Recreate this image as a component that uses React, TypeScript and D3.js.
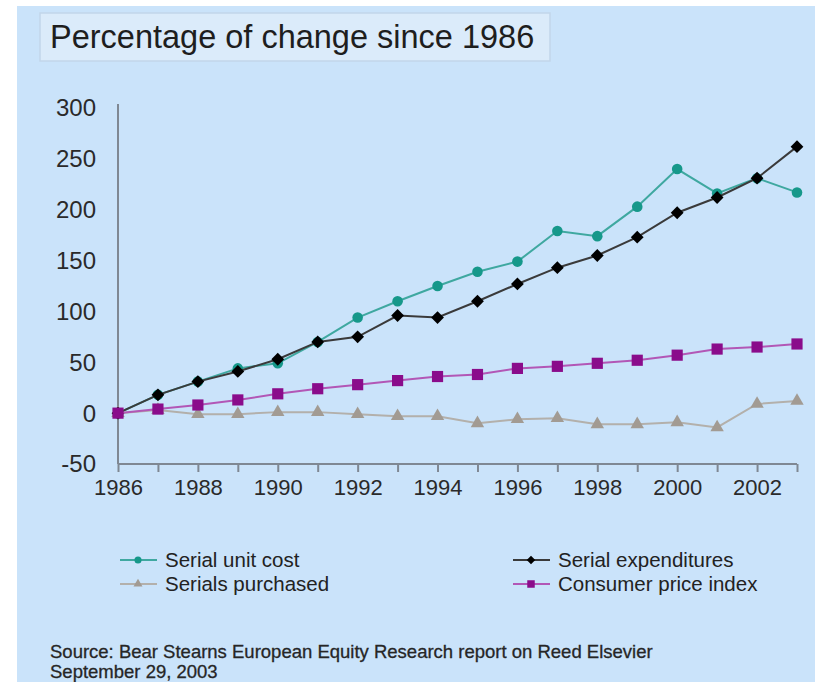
import { useEffect, useRef } from 'react';
import * as d3 from 'd3';

const years = d3.range(1986, 2004);
const unitCost = [0, 18, 31, 44, 49, 70, 94, 110, 125, 139, 149, 179, 174, 203, 240, 216, 231, 217];
const expenditures = [0, 18, 31, 41, 53, 70, 75, 96, 94, 110, 127, 143, 155, 173, 197, 212, 231, 262];
const purchased = [0, 3, -1, -1, 1, 1, -1, -3, -3, -10, -6, -5, -11, -11, -9, -14, 9, 12];
const cpi = [0, 4, 8, 13, 19, 24, 28, 32, 36, 38, 44, 46, 49, 52, 57, 63, 65, 68];
const yTicks = [-50, 0, 50, 100, 150, 200, 250, 300];
const xTicks = [1986, 1988, 1990, 1992, 1994, 1996, 1998, 2000, 2002];

// diamond = square turned 45 degrees
const diamond = {
  draw(ctx: any, size: number) {
    const h = Math.sqrt(size / 2);
    ctx.moveTo(0, -h);
    ctx.lineTo(h, 0);
    ctx.lineTo(0, h);
    ctx.lineTo(-h, 0);
    ctx.closePath();
  },
};

const series = [
  { name: 'Serials purchased', values: purchased, line: '#b3b0ab', fill: '#a29b93', shape: d3.symbolTriangle, size: 78 },
  { name: 'Serial unit cost', values: unitCost, line: '#3fa8a0', fill: '#16988a', shape: d3.symbolCircle, size: 88 },
  { name: 'Serial expenditures', values: expenditures, line: '#3a3a3a', fill: '#000000', shape: diamond, size: 82 },
  { name: 'Consumer price index', values: cpi, line: '#b257b6', fill: '#8a0c8b', shape: d3.symbolSquare, size: 125 },
];

// legend order as in the picture: 2 columns, 2 rows
const legendItems = [
  { s: 1, col: 0, row: 0 },
  { s: 2, col: 1, row: 0 },
  { s: 0, col: 0, row: 1 },
  { s: 3, col: 1, row: 1 },
];

function drawChart(svgEl: SVGSVGElement) {
  const width = 815;
  const height = 682;
  const svg = d3.select(svgEl);
  svg.selectAll('*').remove();

  const font = "'Liberation Sans', Arial, sans-serif";

  svg.append('rect')
    .attr('x', 17).attr('y', 6)
    .attr('width', width - 17).attr('height', height - 6)
    .attr('fill', '#cae3fa');

  // title box
  svg.append('rect')
    .attr('x', 40).attr('y', 13)
    .attr('width', 510).attr('height', 48)
    .attr('fill', '#dbebfa')
    .attr('stroke', '#c2d6ea')
    .attr('stroke-width', 1.5);
  svg.append('text')
    .attr('x', 50).attr('y', 48)
    .attr('font-family', font)
    .attr('font-size', 32.5)
    .attr('fill', '#1e1e1e')
    .text('Percentage of change since 1986');

  const x = d3.scaleLinear().domain([1986, 2003]).range([118, 797]);
  const y = d3.scaleLinear().domain([-50, 300]).range([464, 108]);

  const axisColor = '#7f8893';

  // y axis (no ticks, labels only)
  svg.append('line')
    .attr('x1', x(1986)).attr('x2', x(1986))
    .attr('y1', 104).attr('y2', y(-50))
    .attr('stroke', axisColor).attr('stroke-width', 2);
  svg.append('g')
    .selectAll('text')
    .data(yTicks)
    .join('text')
      .attr('x', 96)
      .attr('y', d => y(d))
      .attr('dy', '0.35em')
      .attr('text-anchor', 'end')
      .attr('font-family', font)
      .attr('font-size', 24)
      .attr('fill', '#2a2a2a')
      .text(d => d);

  // x axis
  const xAxis = d3.axisBottom(x)
    .tickValues(years)
    .tickSize(8)
    .tickFormat(d => (xTicks.includes(+d) ? String(d) : ''));
  const gx = svg.append('g')
    .attr('transform', `translate(0,${y(-50)})`)
    .call(xAxis);
  gx.select('.domain').attr('stroke', axisColor).attr('stroke-width', 2).attr('d', `M${x(1986)},0H${x(2003)}`);
  gx.selectAll('.tick line').attr('stroke', axisColor).attr('stroke-width', 2);
  gx.selectAll('.tick text')
    .attr('font-family', font)
    .attr('font-size', 22)
    .attr('fill', '#2a2a2a')
    .attr('y', 15);

  const line = d3.line<number>()
    .x((_, i) => x(years[i]))
    .y(d => y(d));

  series.forEach(s => {
    const g = svg.append('g');
    g.append('path')
      .datum(s.values)
      .attr('d', line)
      .attr('fill', 'none')
      .attr('stroke', s.line)
      .attr('stroke-width', 2);
    g.selectAll('path.m')
      .data(s.values)
      .join('path')
        .attr('class', 'm')
        .attr('transform', (d, i) => `translate(${x(years[i])},${y(d)})`)
        .attr('d', d3.symbol().type(s.shape as any).size(s.size)())
        .attr('fill', s.fill);
  });

  // legend
  const lg = svg.append('g');
  legendItems.forEach(it => {
    const s = series[it.s];
    const lx = it.col === 0 ? 120 : 513;
    const ly = it.row === 0 ? 560 : 584;
    lg.append('line')
      .attr('x1', lx).attr('x2', lx + 37)
      .attr('y1', ly).attr('y2', ly)
      .attr('stroke', s.line).attr('stroke-width', 2);
    lg.append('path')
      .attr('transform', `translate(${lx + 18},${ly})`)
      .attr('d', d3.symbol().type(s.shape as any).size(s.size * 0.45)())
      .attr('fill', s.fill);
    lg.append('text')
      .attr('x', lx + 45)
      .attr('y', ly)
      .attr('dy', '0.35em')
      .attr('font-family', font)
      .attr('font-size', 20.5)
      .attr('fill', '#222')
      .text(s.name);
  });

  // source note
  const src = svg.append('text')
    .attr('font-family', font)
    .attr('font-size', 18.5)
    .attr('fill', '#262626')
    .attr('stroke', '#262626')
    .attr('stroke-width', 0.3);
  src.append('tspan').attr('x', 50).attr('y', 658)
    .text('Source: Bear Stearns European Equity Research report on Reed Elsevier');
  src.append('tspan').attr('x', 50).attr('y', 678)
    .text('September 29, 2003');
}

export default function App() {
  const ref = useRef<SVGSVGElement>(null);

  useEffect(() => {
    if (ref.current) drawChart(ref.current);
  }, []);

  return (
    <svg
      ref={ref}
      width={815}
      height={682}
      style={{ position: 'absolute', left: 0, top: 0, background: '#ffffff' }}
    />
  );
}
